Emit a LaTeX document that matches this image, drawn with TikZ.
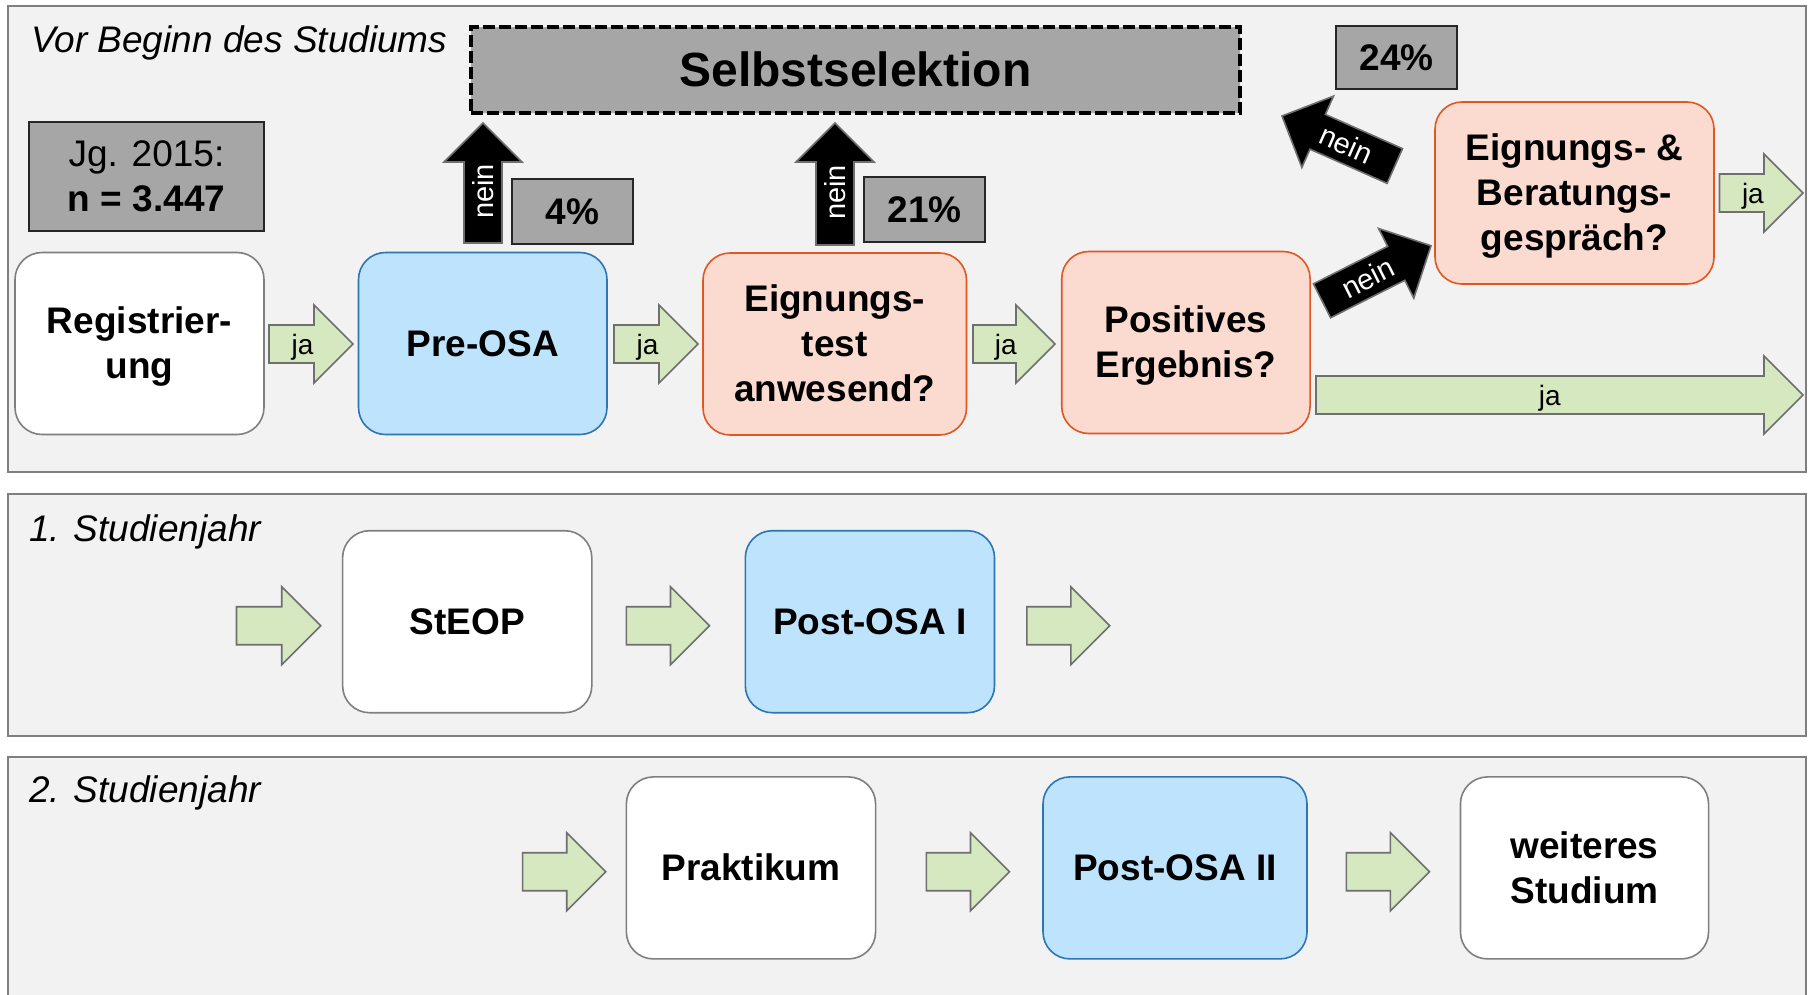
\documentclass[tikz,border=0pt]{standalone}
\usepackage{fontspec}
\setmainfont{Liberation Sans}
\usetikzlibrary{calc}
\definecolor{panelfill}{HTML}{F2F2F2}
\definecolor{panelline}{HTML}{7F7F7F}
\definecolor{graybox}{HTML}{A6A6A6}
\definecolor{grayline}{HTML}{262626}
\definecolor{boxline}{HTML}{7F7F7F}
\definecolor{bluefill}{HTML}{BDE3FD}
\definecolor{blueline}{HTML}{2E75B6}
\definecolor{pinkfill}{HTML}{FBDAD0}
\definecolor{pinkline}{HTML}{E2561F}
\definecolor{greenfill}{HTML}{D5E8BF}
\definecolor{arrowline}{HTML}{6F6F6F}
% line strut with the ascent and descent of a 37pt Liberation Sans line
\newcommand\ls{\rule[-7.8pt]{0pt}{41.3pt}}
\newcommand\lsbig{\rule[-10.2pt]{0pt}{53.6pt}}
\tikzset{
  panel/.style={fill=panelfill, draw=panelline, line width=2.5pt},
  paneltitle/.style={anchor=base west, inner sep=0pt, font=\itshape\fontsize{37}{40}\selectfont},
  box/.style={rounded corners=27pt, minimum height=182pt, inner sep=0pt, align=center,
    font=\bfseries\fontsize{37}{45}\selectfont, line width=1.6pt},
  whitebox/.style={box, fill=white, draw=boxline},
  bluebox/.style={box, fill=bluefill, draw=blueline},
  pinkbox/.style={box, fill=pinkfill, draw=pinkline},
  graynode/.style={fill=graybox, draw=grayline, line width=1.8pt, inner sep=0pt, align=center,
    font=\bfseries\fontsize{37}{45}\selectfont},
  selbox/.style={graynode, draw=black, line width=4pt, dash pattern=on 12pt off 4pt,
    font=\bfseries\fontsize{48}{52}\selectfont},
  greenarrow/.style={fill=greenfill, draw=arrowline, line width=1.6pt, line join=miter},
  blackarrow/.style={fill=black, draw=arrowline, line width=1.6pt, line join=miter},
  jalabel/.style={font=\fontsize{28}{30}\selectfont, inner sep=0pt, yshift=-3pt},
  neinlabel/.style={font=\fontsize{29}{30}\selectfont, inner sep=0pt, text=white},
}
% #1 arrow style, #2 tail coordinate, #3 tip coordinate, #4 label options, #5 label
\newcommand\blockarrow[5]{%
  \coordinate (ba) at ($(#3)!39pt!(#2)$);
  \draw[#1] ($(#2)!19pt!90:(#3)$) -- ($(ba)!19pt!90:(#3)$) -- ($(ba)!39pt!90:(#3)$) -- (#3)
    -- ($(ba)!39pt!-90:(#3)$) -- ($(ba)!19pt!-90:(#3)$) -- ($(#2)!19pt!-90:(#3)$) -- cycle;
  \path (#2) -- (#3) node[#4] (#2lbl) {#5};
}
\newcommand\plainarrow[2]{%
  \coordinate (ba) at ($(#2)!39pt!(#1)$);
  \draw[greenarrow] ($(#1)!19pt!90:(#2)$) -- ($(ba)!19pt!90:(#2)$) -- ($(ba)!39pt!90:(#2)$) -- (#2)
    -- ($(ba)!39pt!-90:(#2)$) -- ($(ba)!19pt!-90:(#2)$) -- ($(#1)!19pt!-90:(#2)$) -- cycle;
}
\begin{document}
\begin{tikzpicture}[x=1pt, y=-1pt]
\useasboundingbox (0,0) rectangle (1809,994);
\clip (0,0) rectangle (1809,994);

% panels
\path[panel] (8,6) rectangle (1806,472);
\path[panel] (8,494) rectangle (1806,736);
\fill[panelfill] (8,757) rectangle (1806,1000);
\draw[panelline, line width=2.5pt] (8,1000) -- (8,757) -- (1806,757) -- (1806,1000);

\node[paneltitle] (t0) at (31,52) {Vor Beginn des Studiums};
\node[paneltitle] (t1) at (29,541) {1. Studienjahr};
\node[paneltitle] (t2) at (29,802) {2. Studienjahr};

% gray boxes
\node[selbox, minimum width=769pt, minimum height=86pt] (sel) at (855.5,69.5) {\lsbig Selbstselektion};
\node[graynode, minimum width=235pt, minimum height=109pt] (jg) at (146.5,176.5)
  {\ls\mdseries Jg. 2015:\\\ls n = 3.447};
\node[graynode, minimum width=121pt, minimum height=65pt] (p4) at (572.5,211.5) {\ls 4\%};
\node[graynode, minimum width=121pt, minimum height=65pt] (p21) at (924.5,209.5) {\ls 21\%};
\node[graynode, minimum width=121pt, minimum height=63pt] (p24) at (1396.5,57.5) {\ls 24\%};

% row 1
\node[whitebox, minimum width=249pt] (reg) at (139.5,343.5) {\ls Registrier-\\\ls ung};
\node[bluebox, minimum width=248.5pt] (pre) at (482.75,343.5) {\ls Pre-OSA};
\node[pinkbox, minimum width=263.5pt] (eig) at (834.75,344) {\ls Eignungs-\\\ls test\\\ls anwesend?};
\node[pinkbox, minimum width=248.3pt] (pos) at (1185.9,342.5) {\ls Positives\\\ls Ergebnis?};
\node[pinkbox, minimum width=279pt] (ber) at (1574.5,193) {\ls Eignungs- \&\\\ls Beratungs-\\\ls gespräch?};

% row 2
\node[whitebox, minimum width=249.2pt] (steop) at (467.2,621.7) {\ls StEOP};
\node[bluebox, minimum width=249.2pt] (post1) at (869.9,621.7) {\ls Post-OSA I};

% row 3
\node[whitebox, minimum width=249.2pt] (prak) at (751,867.9) {\ls Praktikum};
\node[bluebox, minimum width=264pt] (post2) at (1175,867.9) {\ls Post-OSA II};
\node[whitebox, minimum width=248.1pt] (weit) at (1584.5,867.9) {\ls weiteres\\\ls Studium};

% arrow coordinates
\coordinate (a1t) at (269,344);   \coordinate (a1h) at (353,344);
\coordinate (a2t) at (614,344);   \coordinate (a2h) at (698,344);
\coordinate (a3t) at (973,344);   \coordinate (a3h) at (1055,344);
\coordinate (a4t) at (1719.5,193); \coordinate (a4h) at (1803,193);
\coordinate (a5t) at (1316,395);  \coordinate (a5h) at (1803,395);
\coordinate (u1t) at (483,243);   \coordinate (u1h) at (483,123);
\coordinate (u2t) at (835,245);   \coordinate (u2h) at (835,123);
\coordinate (d1t) at (1322,300.8); \coordinate (d1h) at (1431,245.7);
\coordinate (d2t) at (1394.8,166); \coordinate (d2h) at (1282,116);

\coordinate (b1t) at (236.5,625.7); \coordinate (b1h) at (320.7,625.7);
\coordinate (b2t) at (626.4,625.7); \coordinate (b2h) at (709.5,625.7);
\coordinate (b3t) at (1026.8,625.7); \coordinate (b3h) at (1109.8,625.7);

\coordinate (c1t) at (522.6,871.7); \coordinate (c1h) at (605.7,871.7);
\coordinate (c2t) at (926.4,871.7); \coordinate (c2h) at (1009.5,871.7);
\coordinate (c3t) at (1346.3,871.7); \coordinate (c3h) at (1429.4,871.7);

% arrows row 1
\blockarrow{greenarrow}{a1t}{a1h}{jalabel, pos=0.4}{ja}
\blockarrow{greenarrow}{a2t}{a2h}{jalabel, pos=0.4}{ja}
\blockarrow{greenarrow}{a3t}{a3h}{jalabel, pos=0.4}{ja}
\blockarrow{greenarrow}{a4t}{a4h}{jalabel, pos=0.4}{ja}
\blockarrow{greenarrow}{a5t}{a5h}{jalabel, pos=0.48}{ja}
\blockarrow{blackarrow}{u1t}{u1h}{neinlabel, pos=0.43, rotate=90}{nein}
\blockarrow{blackarrow}{u2t}{u2h}{neinlabel, pos=0.43, rotate=90}{nein}
\blockarrow{blackarrow}{d1t}{d1h}{neinlabel, pos=0.42, rotate=26.8}{nein}
\blockarrow{blackarrow}{d2t}{d2h}{neinlabel, pos=0.43, rotate=-23.9}{nein}

% arrows rows 2 and 3
\plainarrow{b1t}{b1h}
\plainarrow{b2t}{b2h}
\plainarrow{b3t}{b3h}
\plainarrow{c1t}{c1h}
\plainarrow{c2t}{c2h}
\plainarrow{c3t}{c3h}
\end{tikzpicture}
\end{document}
